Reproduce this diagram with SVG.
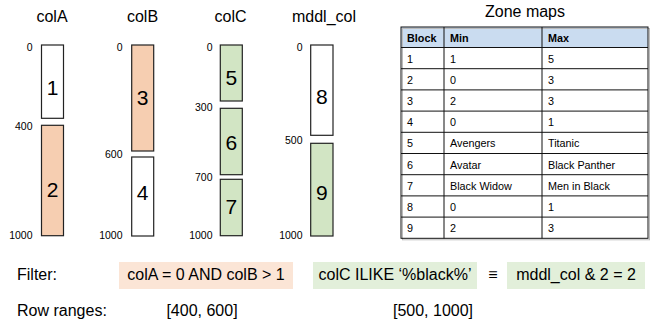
<svg xmlns="http://www.w3.org/2000/svg" width="652" height="326" viewBox="0 0 652 326">
<style>
text{font-family:"Liberation Sans",Arial,sans-serif;fill:#000}
.title{font-size:16px;text-anchor:middle}
.tick{font-size:10.5px;text-anchor:end}
.num{font-size:21px;text-anchor:middle}
.blk{stroke:#222;stroke-width:1.2}
.w{fill:#fff}
.p{fill:#f6ceb1}
.g{fill:#d2e5c4}
.cell{font-size:10.8px}
.hdr{font-size:10.8px;font-weight:bold}
.grid{stroke:#111;stroke-width:1}
.big{font-size:16px}
.mid{font-size:16px;text-anchor:middle}
</style>
<rect width="652" height="326" fill="#fff"/>

<g id="colA">
<text class="title" x="52" y="22">colA</text>
<text class="tick" x="32.5" y="51">0</text>
<text class="tick" x="32.5" y="130">400</text>
<text class="tick" x="32.5" y="238.5">1000</text>
<g id="block1"><rect class="blk w" x="41.5" y="45" width="22" height="73.3"/><text class="num" x="52.5" y="95">1</text></g>
<g id="block2"><rect class="blk p" x="41.5" y="125.3" width="22" height="110.4"/><text class="num" x="52.5" y="196.5">2</text></g>
</g>

<g id="colB">
<text class="title" x="142.5" y="22">colB</text>
<text class="tick" x="122.5" y="51">0</text>
<text class="tick" x="122.5" y="158">600</text>
<text class="tick" x="122.5" y="238.5">1000</text>
<g id="block3"><rect class="blk p" x="131.7" y="45" width="22" height="106"/><text class="num" x="142.7" y="105">3</text></g>
<g id="block4"><rect class="blk w" x="131.7" y="157" width="22" height="79"/><text class="num" x="142.7" y="200">4</text></g>
</g>

<g id="colC">
<text class="title" x="230.5" y="22">colC</text>
<text class="tick" x="212.5" y="51">0</text>
<text class="tick" x="212.5" y="111">300</text>
<text class="tick" x="212.5" y="180.5">700</text>
<text class="tick" x="212.5" y="239">1000</text>
<g id="block5"><rect class="blk g" x="220.3" y="45" width="22" height="56"/><text class="num" x="231.3" y="85">5</text></g>
<g id="block6"><rect class="blk g" x="220.3" y="108.3" width="22" height="66.4"/><text class="num" x="231.3" y="150">6</text></g>
<g id="block7"><rect class="blk g" x="220.3" y="179.3" width="22" height="56.4"/><text class="num" x="231.3" y="214">7</text></g>
</g>

<g id="mddl_col">
<text class="title" x="324" y="22">mddl_col</text>
<text class="tick" x="302.5" y="51">0</text>
<text class="tick" x="302.5" y="144">500</text>
<text class="tick" x="302.5" y="238.5">1000</text>
<g id="block8"><rect class="blk w" x="310.7" y="45" width="22.3" height="90.3"/><text class="num" x="321.8" y="104">8</text></g>
<g id="block9"><rect class="blk g" x="310.7" y="143.3" width="22.3" height="92.7"/><text class="num" x="321.8" y="200">9</text></g>
</g>

<g id="zonemaps">
<text class="title" x="525" y="17">Zone maps</text>
<rect x="401" y="27" width="247" height="20.5" fill="#cadcf0"/>
<rect x="402.5" y="28.5" width="247" height="211.3" fill="none" stroke="#bbb" stroke-width="1"/>
<rect x="401" y="27" width="247" height="211.3" fill="none" class="grid"/>
<g class="grid">
<line x1="444" y1="27" x2="444" y2="238.3"/>
<line x1="542" y1="27" x2="542" y2="238.3"/>
<line x1="401" y1="47.5" x2="648" y2="47.5"/>
<line x1="401" y1="68.7" x2="648" y2="68.7"/>
<line x1="401" y1="89.9" x2="648" y2="89.9"/>
<line x1="401" y1="111.1" x2="648" y2="111.1"/>
<line x1="401" y1="132.3" x2="648" y2="132.3"/>
<line x1="401" y1="153.5" x2="648" y2="153.5"/>
<line x1="401" y1="174.7" x2="648" y2="174.7"/>
<line x1="401" y1="195.9" x2="648" y2="195.9"/>
<line x1="401" y1="217.1" x2="648" y2="217.1"/>
</g>
<text class="hdr" x="407" y="41.5">Block</text>
<text class="hdr" x="450" y="41.5">Min</text>
<text class="hdr" x="548" y="41.5">Max</text>
<g class="cell">
<text class="cell" x="407" y="62.5">1</text><text class="cell" x="450" y="62.5">1</text><text class="cell" x="548" y="62.5">5</text>
<text class="cell" x="407" y="83.7">2</text><text class="cell" x="450" y="83.7">0</text><text class="cell" x="548" y="83.7">3</text>
<text class="cell" x="407" y="104.9">3</text><text class="cell" x="450" y="104.9">2</text><text class="cell" x="548" y="104.9">3</text>
<text class="cell" x="407" y="126.1">4</text><text class="cell" x="450" y="126.1">0</text><text class="cell" x="548" y="126.1">1</text>
<text class="cell" x="407" y="147.3">5</text><text class="cell" x="450" y="147.3">Avengers</text><text class="cell" x="548" y="147.3">Titanic</text>
<text class="cell" x="407" y="168.5">6</text><text class="cell" x="450" y="168.5">Avatar</text><text class="cell" x="548" y="168.5">Black Panther</text>
<text class="cell" x="407" y="189.7">7</text><text class="cell" x="450" y="189.7">Black Widow</text><text class="cell" x="548" y="189.7">Men in Black</text>
<text class="cell" x="407" y="210.9">8</text><text class="cell" x="450" y="210.9">0</text><text class="cell" x="548" y="210.9">1</text>
<text class="cell" x="407" y="232.1">9</text><text class="cell" x="450" y="232.1">2</text><text class="cell" x="548" y="232.1">3</text>
</g>
</g>

<g id="filter">
<text class="big" x="17" y="280">Filter:</text>
<g id="filterA"><rect x="119" y="262" width="174" height="27" fill="#fbe5d6"/><text class="mid" x="206" y="280">colA = 0 AND colB &gt; 1</text></g>
<g id="filterC"><rect x="313" y="262" width="164" height="27" fill="#e2efda"/><text class="mid" x="395" y="280">colC ILIKE ‘%black%’</text></g>
<text class="mid" x="493" y="280">≡</text>
<g id="filterM"><rect x="507" y="262" width="138" height="27" fill="#e2efda"/><text class="mid" x="576" y="280">mddl_col &amp; 2 = 2</text></g>
</g>

<g id="rowranges">
<text class="big" x="17" y="316">Row ranges:</text>
<text class="mid" x="202" y="316">[400, 600]</text>
<text class="mid" x="433" y="316">[500, 1000]</text>
</g>
</svg>
